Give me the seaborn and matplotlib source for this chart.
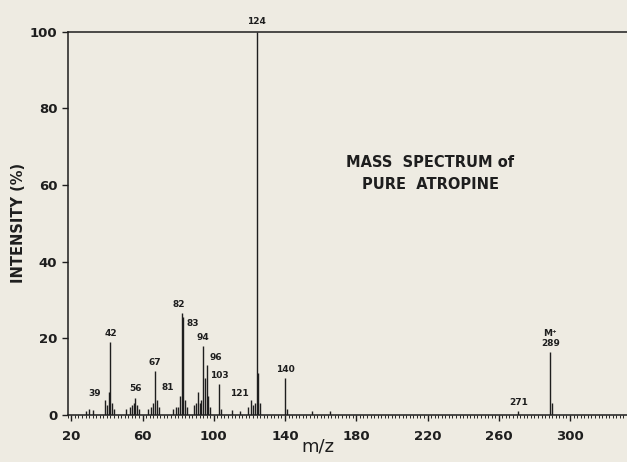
import numpy as np
import matplotlib.pyplot as plt
import seaborn as sns

# m/z and relative intensity (%)
mz = [28, 30, 32, 39, 40, 41, 42, 43, 44, 51, 53, 54, 55, 56, 57, 58, 63, 65, 66, 67, 68, 69,
      77, 79, 80, 81, 82, 83, 84, 85, 89, 90, 91, 92, 93, 94, 95, 96, 97, 98, 103, 104,
      110, 115, 119, 121, 122, 123, 124, 125, 126, 140, 141, 155, 165, 271, 289, 290]
intensity = [1.0, 1.5, 1.2, 4.0, 2.5, 6.0, 19.0, 3.0, 1.5, 1.5, 2.0, 2.5, 3.0, 4.5, 2.5, 1.5,
             1.5, 2.0, 3.0, 11.5, 4.0, 2.0, 1.5, 2.0, 2.0, 5.0, 26.5, 25.5, 4.0, 2.0, 2.5, 3.0,
             6.0, 3.0, 4.0, 18.0, 9.5, 13.0, 5.0, 2.0, 8.0, 1.5, 1.2, 1.0, 2.0, 4.0, 2.5, 3.0,
             100.0, 11.0, 3.0, 9.5, 1.5, 1.0, 1.0, 1.0, 16.5, 3.0]

labels = ["39", "42", "56", "67", "81", "82", "83", "94", "96", "103", "121", "124", "140", "271", "M⁺\n289"]
label_mz = [39, 42, 56, 67, 81, 82, 83, 94, 96, 103, 121, 124, 140, 271, 289]

xticks = [20, 60, 100, 140, 180, 220, 260, 300]
yticks = [0, 20, 40, 60, 80, 100]

paper = "#eeebe2"
ink = "#1e1e1e"

sns.set_theme(style="ticks")
plt.rcParams["font.family"] = ["DejaVu Sans"]

fig = plt.figure(figsize=(6.27, 4.62), dpi=100, facecolor=paper)
ax = fig.add_axes([0.108, 0.102, 0.892, 0.829])
ax.set_facecolor(paper)

ax.vlines(mz, 0, intensity, color=ink, linewidth=1.0)

# label offsets in points (dx, dy) and alignment
offsets = {39: (-3, 1, "right"), 81: (-4, 3, "right"), 82: (-2, 3, "center"),
           83: (2, -8, "left"), 96: (2, 2, "left"), 121: (-2, 1, "right"),
           124: (0, 4, "center")}
lookup = dict(zip(mz, intensity))
for lab, m in zip(labels, label_mz):
    dx, dy, ha = offsets.get(m, (0, 3, "center"))
    ax.annotate(lab, (m, lookup[m]), xytext=(dx, dy), textcoords="offset points",
                ha=ha, va="bottom", fontsize=6.5, fontweight="bold", color=ink,
                annotation_clip=False, linespacing=1.1)

ax.set_xlim(18, 332)
ax.set_ylim(0, 100)
ax.set_xticks(xticks)
ax.set_xticks(np.arange(18, 333, 2), minor=True)
ax.set_yticks(yticks)
ax.tick_params(axis="both", colors=ink, labelsize=9.5, width=1.0, length=4)
ax.tick_params(axis="x", pad=7)
ax.tick_params(axis="x", which="minor", length=2, width=0.7, direction="out")
for t in ax.get_xticklabels() + ax.get_yticklabels():
    t.set_fontweight("bold")

sns.despine(ax=ax, top=False, right=True)
for s in ["left", "bottom", "top"]:
    ax.spines[s].set_color(ink)
    ax.spines[s].set_linewidth(1.1)

ax.set_ylabel("INTENSITY (%)", fontsize=10.5, fontweight="bold", color=ink)
ax.yaxis.set_label_coords(-0.075, 0.5)
ax.set_xlabel("m/z", fontsize=13, color=ink)
ax.xaxis.set_label_coords(0.447, -0.06)

ax.text(0.648, 0.63, "MASS  SPECTRUM of\nPURE  ATROPINE", transform=ax.transAxes,
        ha="center", va="center", fontsize=10.5, fontweight="bold", color=ink, linespacing=1.6)

fig.savefig("out.png", dpi=100, facecolor=paper)
